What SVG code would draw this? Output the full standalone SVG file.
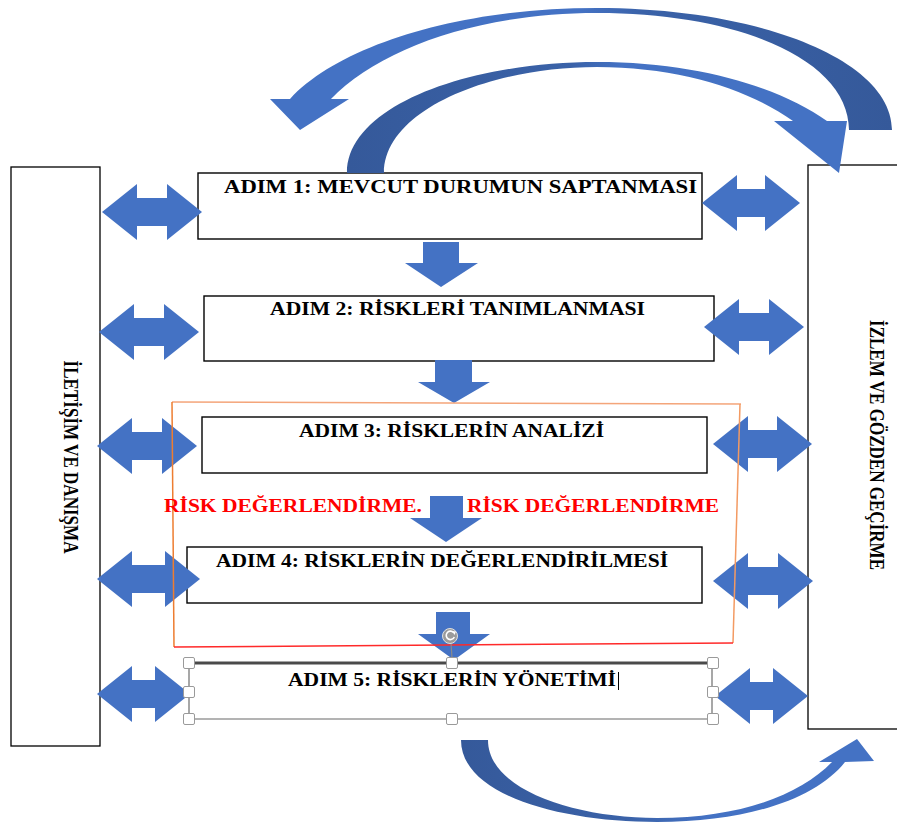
<svg xmlns="http://www.w3.org/2000/svg" width="897" height="825" viewBox="0 0 897 825">
<style>
.box{fill:#fff;stroke:#000;stroke-width:1.4}
.side{fill:#fff;stroke:#000;stroke-width:1.3}
.t{font-family:"Liberation Serif","Times New Roman",serif;font-weight:bold;font-size:18px;fill:#000}
.vt{font-family:"Liberation Serif","Times New Roman",serif;font-weight:bold;font-size:17px;fill:#000}
.red{font-family:"Liberation Serif","Times New Roman",serif;font-weight:bold;font-size:18px;fill:#ff0000}
.ar{fill:#4472c4}
.hd{fill:#fff;stroke:#9a9a9a;stroke-width:1}
</style>
<defs>
<linearGradient id="gOuter" gradientUnits="userSpaceOnUse" x1="270" y1="0" x2="892" y2="0">
<stop offset="0" stop-color="#4472c4"/><stop offset="0.5" stop-color="#4472c4"/><stop offset="0.6" stop-color="#3a62a8"/><stop offset="1" stop-color="#35599a"/>
</linearGradient>
<linearGradient id="gInner" gradientUnits="userSpaceOnUse" x1="347" y1="0" x2="847" y2="0">
<stop offset="0" stop-color="#35599a"/><stop offset="0.45" stop-color="#3a62a8"/><stop offset="0.55" stop-color="#4472c4"/><stop offset="1" stop-color="#4472c4"/>
</linearGradient>
<linearGradient id="gBottom" gradientUnits="userSpaceOnUse" x1="461" y1="0" x2="873" y2="0">
<stop offset="0" stop-color="#35599a"/><stop offset="0.4" stop-color="#3a62a8"/><stop offset="0.6" stop-color="#4472c4"/><stop offset="1" stop-color="#4472c4"/>
</linearGradient>
</defs>
<rect width="897" height="825" fill="#fff"/>

<g id="iletisim">
<rect class="side" x="11" y="167" width="89" height="579"/>
<text class="vt" transform="translate(64,457) scale(1.19,1) rotate(90)" text-anchor="middle" textLength="193" lengthAdjust="spacingAndGlyphs">İLETİŞİM VE DANIŞMA</text>
</g>
<g id="izlem">
<rect class="side" x="808" y="165" width="100" height="564"/>
<text class="vt" transform="translate(870,445) scale(1.19,1) rotate(90)" text-anchor="middle" textLength="250" lengthAdjust="spacingAndGlyphs">İZLEM VE GÖZDEN GEÇİRME</text>
</g>

<g id="adim1">
<rect class="box" x="198" y="173" width="504" height="66"/>
<text class="t" x="224" y="193" textLength="473" lengthAdjust="spacingAndGlyphs">ADIM 1: MEVCUT DURUMUN SAPTANMASI</text>
</g>
<g id="adim2">
<rect class="box" x="204" y="296" width="510" height="65"/>
<text class="t" x="270" y="315" textLength="375" lengthAdjust="spacingAndGlyphs">ADIM 2: RİSKLERİ TANIMLANMASI</text>
</g>
<g id="adim3">
<rect class="box" x="202" y="417" width="505" height="56"/>
<text class="t" x="299" y="437" textLength="305" lengthAdjust="spacingAndGlyphs">ADIM 3: RİSKLERİN ANALİZİ</text>
</g>
<g id="adim4">
<rect class="box" x="187" y="547" width="515" height="56"/>
<text class="t" x="216" y="567" textLength="452" lengthAdjust="spacingAndGlyphs">ADIM 4: RİSKLERİN DEĞERLENDİRİLMESİ</text>
</g>

<g id="connectors">
<path class="ar" d="M102,212 L137,184 L137,198 L167,198 L167,184 L202,212 L167,240 L167,226 L137,226 L137,240 Z"/>
<path class="ar" d="M99,332 L134,304 L134,318 L164,318 L164,304 L199,332 L164,360 L164,346 L134,346 L134,360 Z"/>
<path class="ar" d="M97,446 L132,418 L132,432 L162,432 L162,418 L197,446 L162,474 L162,460 L132,460 L132,474 Z"/>
<path class="ar" d="M97,579 L132,551 L132,565 L165,565 L165,551 L200,579 L165,607 L165,593 L132,593 L132,607 Z"/>
<path class="ar" d="M97,694 L132,666 L132,680 L155,680 L155,666 L190,694 L155,722 L155,708 L132,708 L132,722 Z"/>
<path class="ar" d="M702,203 L737,175 L737,189 L765,189 L765,175 L800,203 L765,231 L765,217 L737,217 L737,231 Z"/>
<path class="ar" d="M704,327 L739,299 L739,313 L769,313 L769,299 L804,327 L769,355 L769,341 L739,341 L739,355 Z"/>
<path class="ar" d="M713,444 L748,416 L748,430 L777,430 L777,416 L812,444 L777,472 L777,458 L748,458 L748,472 Z"/>
<path class="ar" d="M713,581 L748,553 L748,567 L778,567 L778,553 L813,581 L778,609 L778,595 L748,595 L748,609 Z"/>
<path class="ar" d="M715,696 L750,668 L750,682 L773,682 L773,668 L808,696 L773,724 L773,710 L750,710 L750,724 Z"/>
<path class="ar" d="M423,242 L459,242 L459,263 L478,263 L441,287 L405,263 L423,263 Z"/>
<path class="ar" d="M435,360 L472,360 L472,382 L490,382 L454,403 L418,382 L435,382 Z"/>
<path class="ar" d="M430,496 L463,496 L463,518 L482,518 L446,542 L410,518 L430,518 Z"/>
<path class="ar" d="M436,612 L470,612 L470,634 L490,634 L454,660 L418,634 L436,634 Z"/>
<path fill="url(#gOuter)" d="M892,130 C892,60 760,8 597,8 C460,8 340,45 290,99 L270,99 L300,130 L349,99 L331,99 C380,48 480,13 597,13 C740,13 849,60 849,130 Z"/>
<path fill="url(#gInner)" d="M347,173 C347,105 470,62 597,62 C700,62 780,88 827,121 L847,121 L839,173 L774,121 L793,121 C750,90 680,67 597,67 C490,67 384,110 384,173 Z"/>
<path fill="url(#gBottom)" d="M461,740 C461,795 560,822 657,822 C745,822 815,800 845,762 L874,761 L857,739 L819,762 L832,762 C800,795 740,818 657,818 C575,818 488,790 488,740 Z"/>
</g>

<g id="risk-degerlendirme">
<line x1="172" y1="402" x2="741" y2="404" stroke="#f4a57a" stroke-width="1.5"/>
<line x1="740" y1="404" x2="733" y2="643" stroke="#f39a62" stroke-width="1.5"/>
<line x1="172" y1="402" x2="174" y2="647" stroke="#ed7d31" stroke-width="1.5"/>
<line x1="174" y1="647" x2="733" y2="643" stroke="#ff2a2a" stroke-width="1.5"/>
<text class="red" x="164" y="512" textLength="258" lengthAdjust="spacingAndGlyphs">RİSK DEĞERLENDİRME.</text>
<text class="red" x="467" y="512" textLength="252" lengthAdjust="spacingAndGlyphs">RİSK DEĞERLENDİRME</text>
</g>

<g id="adim5">
<line x1="189" y1="663" x2="713" y2="663" stroke="#4a4a4a" stroke-width="3"/>
<line x1="189" y1="719" x2="713" y2="719" stroke="#9a9a9a" stroke-width="1.5"/>
<line x1="189" y1="663" x2="189" y2="719" stroke="#8a8a8a" stroke-width="1.5"/>
<line x1="712" y1="663" x2="712" y2="719" stroke="#8a8a8a" stroke-width="1.5"/>
<text class="t" x="288" y="686" textLength="328" lengthAdjust="spacingAndGlyphs">ADIM 5: RİSKLERİN YÖNETİMİ</text>
<line x1="618.5" y1="672" x2="618.5" y2="690" stroke="#000" stroke-width="1"/>
<line x1="451" y1="643" x2="452" y2="658" stroke="#8a8a8a" stroke-width="1.2"/>
<circle cx="450" cy="636" r="7.5" fill="#9b9b9b" stroke="#e0e0e0" stroke-width="1"/>
<path d="M453.5,632.5 A4.2,4.2 0 1 0 454.3,637" fill="none" stroke="#fff" stroke-width="1.6"/>
<path d="M452,631 L456,631.5 L454.5,635 Z" fill="#fff"/>
<rect class="hd" x="183.5" y="657.5" width="11" height="11" rx="1.5"/>
<rect class="hd" x="446.5" y="657.5" width="11" height="11" rx="1.5"/>
<rect class="hd" x="707.5" y="657.5" width="11" height="11" rx="1.5"/>
<rect class="hd" x="183.5" y="686.5" width="11" height="11" rx="1.5"/>
<rect class="hd" x="707.5" y="686.5" width="11" height="11" rx="1.5"/>
<rect class="hd" x="183.5" y="713.5" width="11" height="11" rx="1.5"/>
<rect class="hd" x="446.5" y="713.5" width="11" height="11" rx="1.5"/>
<rect class="hd" x="707.5" y="713.5" width="11" height="11" rx="1.5"/>
</g>
</svg>
